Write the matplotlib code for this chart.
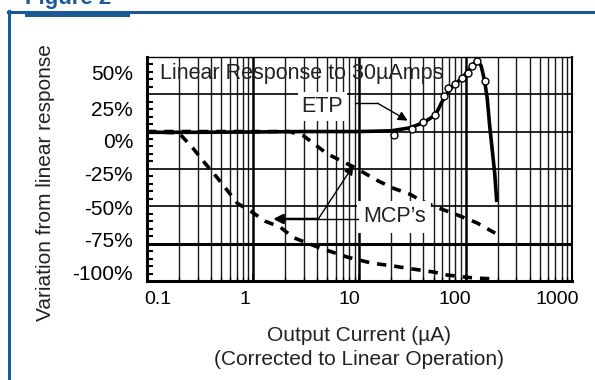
import matplotlib
matplotlib.use("Agg")
import matplotlib.pyplot as plt
import matplotlib.transforms as mtransforms
from matplotlib.patches import Rectangle
from matplotlib.lines import Line2D
from matplotlib.ticker import LogLocator, FixedLocator, NullFormatter

plt.rcParams['font.family'] = ['Liberation Sans', 'DejaVu Sans']

BLUE = '#1a5896'

# ETP response (solid curve) and its measured points
etp_x = [0.1, 0.3, 1, 3, 10, 20, 30, 40, 52, 62, 75, 93, 110, 127, 140, 151, 160, 168, 178, 188, 196]
etp_y = [-0.5, -0.5, -0.3, 0, 0, 0.5, 2.5, 6, 11, 22, 30, 36, 42, 48, 44, 34, 22, 5, -12, -28, -46]
etp_pts_x = [21, 31, 40, 52, 62, 69, 80, 93, 105, 116, 127, 151]
etp_pts_y = [-2, 2, 6.5, 11, 24, 29, 32, 36, 39, 44, 47, 34]

# two MCP responses (dashed)
mcp1_x = [0.1, 0.5, 1, 2.2, 3, 5, 9, 15, 21, 30, 40, 55, 85, 127, 190]
mcp1_y = [0, 0, 0, 0, -3, -15, -24, -33, -38, -42, -47, -51, -56, -61, -68]
mcp2_x = [0.1, 0.2, 0.27, 0.35, 0.46, 0.58, 0.71, 0.98, 1.3, 1.8, 2.4, 4.3, 7.7, 13, 21, 32, 50, 67, 88, 122, 175]
mcp2_y = [0, -1, -11, -21, -31, -40, -48, -54, -60, -64, -71, -78, -84, -88, -90, -92, -94, -96, -97, -98, -98.5]

y_ticks = [50, 25, 0, -25, -50, -75, -100]
y_labels = ['50%', '25%', '0%', '-25%', '-50%', '-75%', '-100%']
x_ticks = [0.1, 1, 10, 100, 1000]
x_labels = ['0.1', '1', '10', '100', '1000']

# the printed labels sit a little off their grid lines (pixels)
x_label_nudge = [11, -8, -10, -11, -15]
y_label_nudge = [-16, -14, -9, -5, -1, 4, 9]

fig = plt.figure(figsize=(5.95, 3.8), dpi=100)
ax = fig.add_axes([0.247, 0.2605, 0.714, 0.59])

ax.set_xscale('log')
ax.set_xlim(0.1, 1000)
ax.set_ylim(-100, 50)

# grid: every log minor line, a few drawn heavier
ax.xaxis.set_major_locator(FixedLocator(x_ticks))
ax.set_xticklabels(x_labels)
ax.xaxis.set_minor_locator(LogLocator(base=10, subs=range(2, 10)))
ax.xaxis.set_minor_formatter(NullFormatter())
ax.grid(True, which='major', axis='x', color='black', lw=1.8)
ax.grid(True, which='minor', axis='x', color='#1a1a1a', lw=1.0)
heavy = {3, 6, 7, 8}
for t in ax.xaxis.get_minor_ticks():
    v = t.get_loc()
    m = round(v / 10 ** int(f"{v:e}".split('e')[1]))
    if m in heavy:
        t.gridline.set_linewidth(2.0)
        t.gridline.set_color('black')

ax.set_yticks(y_ticks)
ax.set_yticklabels(y_labels)
ax.yaxis.set_minor_locator(FixedLocator(range(-100, 51, 5)))
ax.grid(True, which='major', axis='y', color='black', lw=1.2)
for t in ax.yaxis.get_major_ticks():
    if t.get_loc() == -75:
        t.gridline.set_linewidth(2.2)

ax.tick_params(axis='both', which='both', direction='in', color='black')
ax.tick_params(axis='x', which='major', labelsize=14, length=5, width=1.2, pad=7)
ax.tick_params(axis='x', which='minor', length=3, width=1.0)
ax.tick_params(axis='y', which='major', labelsize=15, length=0, pad=10)
ax.tick_params(axis='y', which='minor', length=4, width=1.5)

for lbl, dx in zip(ax.get_xticklabels(), x_label_nudge):
    lbl.set_transform(lbl.get_transform() +
                      mtransforms.ScaledTranslation(dx / 100, 0, fig.dpi_scale_trans))
for lbl, dy in zip(ax.get_yticklabels(), y_label_nudge):
    lbl.set_transform(lbl.get_transform() +
                      mtransforms.ScaledTranslation(0, dy / 100, fig.dpi_scale_trans))

for side, lw in [('left', 2.2), ('bottom', 2.2), ('top', 1.0), ('right', 1.5)]:
    ax.spines[side].set_linewidth(lw)
    ax.spines[side].set_color('black')

# curves
ax.plot(mcp1_x, mcp1_y, color='black', lw=2.6, ls=(0, (2.6, 2.2)), zorder=4)
ax.plot(mcp2_x, mcp2_y, color='black', lw=2.6, ls=(0, (2.6, 2.2)), zorder=4)
ax.plot(etp_x, etp_y, color='black', lw=2.6, zorder=5)
ax.plot(etp_pts_x, etp_pts_y, ls='none', marker='o', ms=5, mfc='white', mec='black', mew=1.0, zorder=6)

# labels and arrows
ax.text(0.03, 0.925, 'Linear Response to 30µAmps', transform=ax.transAxes,
        fontsize=15.5, va='center', ha='left', color='#222222', zorder=7)

ax.text(4.5, 16.5, 'ETP', fontsize=15.5, ha='center', va='center', color='#222222', zorder=7,
        bbox=dict(facecolor='white', edgecolor='none', pad=3))
ax.plot([9.0, 14.8], [19, 19], color='black', lw=1.0, zorder=7)
ax.annotate('', xy=(28.5, 7.3), xytext=(14.8, 19),
            arrowprops=dict(arrowstyle='-|>', color='black', lw=1.0,
                            mutation_scale=14, shrinkA=0, shrinkB=0), zorder=7)

ax.text(21.3, -57, "MCP’s", fontsize=15.5, ha='center', va='center', color='#222222', zorder=7,
        bbox=dict(facecolor='white', edgecolor='none', pad=4))
ax.plot([4.1, 9.8], [-58.5, -58.5], color='black', lw=1.0, zorder=7)
ax.annotate('', xy=(1.54, -58.5), xytext=(4.1, -58.5),
            arrowprops=dict(arrowstyle='-|>', color='black', lw=1.8,
                            mutation_scale=14, shrinkA=0, shrinkB=0), zorder=7)
ax.annotate('', xy=(8.8, -22.6), xytext=(4.1, -58.5),
            arrowprops=dict(arrowstyle='-|>', color='black', lw=1.0,
                            mutation_scale=14, shrinkA=0, shrinkB=0), zorder=7)

ax.set_xlabel('Output Current (µA)\n(Corrected to Linear Operation)', fontsize=15,
              linespacing=1.35, color='#222222')
ax.xaxis.set_label_coords(0.5, -0.2, transform=ax.transAxes)
ax.xaxis.label.set_va('top')
ax.set_ylabel('Variation from linear response', fontsize=15, color='#222222')
ax.yaxis.set_label_coords(-0.24, 0.4375, transform=ax.transAxes)
ax.yaxis.label.set_va('center')

# blue frame around the figure panel
fig.add_artist(Line2D([9 / 595, 9 / 595], [0, 1 - 11 / 380], color=BLUE, lw=2.2))
fig.add_artist(Line2D([8 / 595, 1], [1 - 12 / 380, 1 - 12 / 380], color=BLUE, lw=2.2))
fig.add_artist(Rectangle((25 / 595, 1 - 17 / 380), 105 / 595, 5 / 380,
                         facecolor=BLUE, edgecolor='none'))
fig.text(25 / 595, 1 - 4 / 380, 'Figure 2', color=BLUE, fontsize=16,
         fontweight='bold', ha='left', va='baseline')

fig.savefig('out.png', dpi=100)
